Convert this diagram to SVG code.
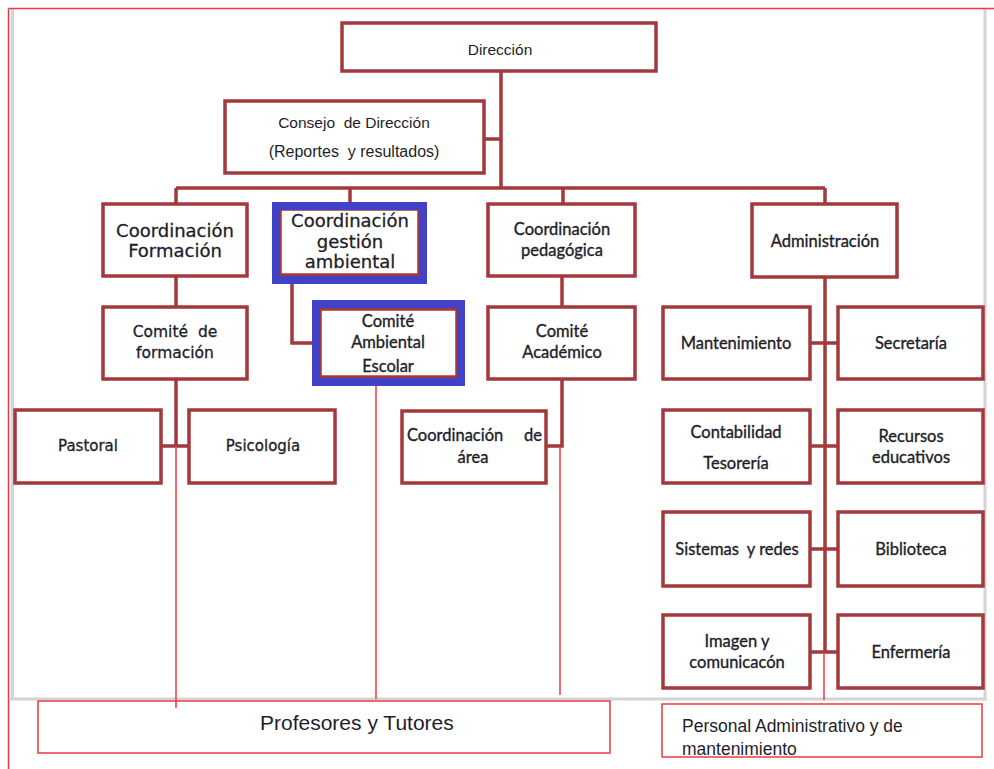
<svg xmlns="http://www.w3.org/2000/svg" width="994" height="769" viewBox="0 0 994 769">
<style>
.box{fill:#ffffff;stroke:#a3393d;stroke-width:3.5}
.blue{fill:none;stroke:#4242c6;stroke-width:8}
.conn{fill:none;stroke:#a3393d;stroke-width:3.5}
.thin{fill:none;stroke:#ec3a44;stroke-width:1.5}
.gray{fill:none;stroke:#d4d4d4;stroke-width:3}
.redbox{fill:none;stroke:#ec3a44;stroke-width:1.5}
.t{font-family:Lato,"Open Sans",sans-serif;font-size:16.5px;fill:#1e1e2a;stroke:#1e1e2a;stroke-width:0.35;text-anchor:middle}
.g{font-family:"DejaVu Sans",sans-serif;fill:#1e1e2a;stroke:#1e1e2a;stroke-width:0.3;text-anchor:middle}
.a{font-family:"Liberation Sans",Arial,sans-serif;fill:#1e1e2a}
</style>
<rect x="0" y="0" width="994" height="769" fill="#ffffff"/>
<g id="frame">
<path class="gray" d="M12.5,9 V699 M985,9 V699 M10,699 H987"/>
<path class="thin" d="M8.5,8.5 H994 M8.5,8.5 V769"/>
</g>
<g id="connectors">
<path class="conn" d="M501,71 V188 M484,139 H501 M176,188 H825 M176,188 V204 M350,188 V203 M563,188 V204 M825,188 V204"/>
<path class="conn" d="M176,276 V307 M176,379 V446 M161,446 H189"/>
<path class="conn" d="M292,284 V343 H313"/>
<path class="conn" d="M562,276 V307 M562,379 V446 H546"/>
<path class="conn" d="M825,277 V652 M810,343 H838 M810,446 H838 M810,549 H838 M810,652 H838"/>
<path class="thin" d="M176,446 V708 M376,386 V699 M560,446 V695 M824,652 V700"/>
</g>
<g id="direccion"><rect class="box" x="342" y="23" width="314" height="48"/><text class="a" x="500" y="55" font-size="15.5" text-anchor="middle">Dirección</text></g>
<g id="consejo"><rect class="box" x="225" y="101" width="259" height="72"/>
<text class="a" x="354" y="128" font-size="15.5" text-anchor="middle" xml:space="preserve">Consejo  de Dirección</text>
<text class="a" x="354" y="157" font-size="16" text-anchor="middle" xml:space="preserve">(Reportes  y resultados)</text></g>
<g id="coord-formacion"><rect class="box" x="103" y="204" width="144" height="72"/>
<text class="g" x="175" y="237" font-size="18">Coordinación</text><text class="g" x="175" y="257" font-size="18">Formación</text></g>
<g id="coord-gestion"><rect class="box" x="280" y="209" width="139" height="66"/><rect class="blue" x="276" y="206" width="147" height="74"/>
<text class="g" x="350" y="227" font-size="18">Coordinación</text><text class="g" x="350" y="248" font-size="18">gestión</text><text class="g" x="350" y="268" font-size="18">ambiental</text></g>
<g id="coord-pedagogica"><rect class="box" x="488" y="204" width="147" height="72"/>
<text class="t" x="562" y="235">Coordinación</text><text class="t" x="562" y="256">pedagógica</text></g>
<g id="administracion"><rect class="box" x="752" y="204" width="145" height="73"/>
<text class="t" x="825" y="247">Administración</text></g>
<g id="comite-formacion"><rect class="box" x="103" y="307" width="144" height="72"/>
<text class="g" x="175" y="337" font-size="15.5" xml:space="preserve">Comité  de</text><text class="g" x="175" y="358" font-size="15.5">formación</text></g>
<g id="comite-ambiental"><rect class="box" x="320" y="309" width="137" height="68"/><rect class="blue" x="316" y="304" width="145" height="78"/>
<text class="t" x="388" y="327" font-size="16">Comité</text><text class="t" x="388" y="348" font-size="16">Ambiental</text><text class="t" x="388" y="372" font-size="16">Escolar</text></g>
<g id="comite-academico"><rect class="box" x="488" y="307" width="147" height="72"/>
<text class="t" x="562" y="337">Comité</text><text class="t" x="562" y="358">Académico</text></g>
<g id="pastoral"><rect class="box" x="15" y="410" width="146" height="73"/><text class="g" x="88" y="451" font-size="15">Pastoral</text></g>
<g id="psicologia"><rect class="box" x="189" y="410" width="146" height="73"/><text class="g" x="263" y="451" font-size="15">Psicología</text></g>
<g id="coord-area"><rect class="box" x="402" y="411" width="144" height="72"/>
<text class="t" y="441"><tspan x="407" text-anchor="start">Coordinación</tspan><tspan x="542" text-anchor="end">de</tspan></text>
<text class="t" x="473" y="463">área</text></g>
<g id="mantenimiento"><rect class="box" x="663" y="307" width="147" height="72"/><text class="t" x="736" y="349">Mantenimiento</text></g>
<g id="secretaria"><rect class="box" x="838" y="307" width="145" height="72"/><text class="t" x="911" y="349">Secretaría</text></g>
<g id="contabilidad"><rect class="box" x="663" y="410" width="147" height="73"/><text class="t" x="736" y="438">Contabilidad</text><text class="t" x="736" y="469">Tesorería</text></g>
<g id="recursos"><rect class="box" x="838" y="410" width="145" height="73"/><text class="t" x="911" y="442">Recursos</text><text class="t" x="911" y="463">educativos</text></g>
<g id="sistemas"><rect class="box" x="663" y="512" width="147" height="74"/><text class="t" x="737" y="555" xml:space="preserve">Sistemas  y redes</text></g>
<g id="biblioteca"><rect class="box" x="838" y="512" width="145" height="74"/><text class="t" x="911" y="555">Biblioteca</text></g>
<g id="imagen"><rect class="box" x="663" y="615" width="147" height="73"/><text class="t" x="737" y="647">Imagen y</text><text class="t" x="737" y="668">comunicacón</text></g>
<g id="enfermeria"><rect class="box" x="838" y="615" width="145" height="73"/><text class="t" x="911" y="658">Enfermería</text></g>
<g id="profesores"><rect class="redbox" x="38" y="701" width="572" height="52"/><text class="a" x="260" y="730" font-size="21">Profesores y Tutores</text></g>
<g id="personal"><rect class="redbox" x="662" y="704" width="320" height="53"/><text class="a" x="682" y="732" font-size="17.5">Personal Administrativo y de</text><text class="a" x="682" y="755" font-size="17.5">mantenimiento</text></g>
</svg>
